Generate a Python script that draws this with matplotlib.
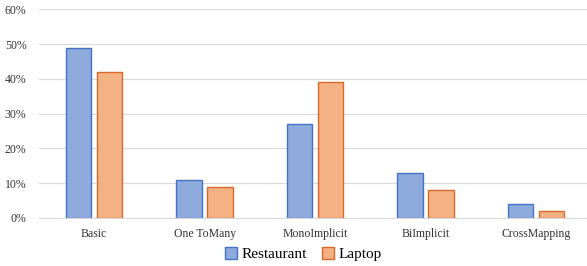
import matplotlib
matplotlib.use("Agg")
import matplotlib.pyplot as plt
import numpy as np

categories = ["Basic", "One ToMany", "MonoImplicit", "BiImplicit", "CrossMapping"]
restaurant = [49, 11, 27, 13, 4]
laptop = [42, 9, 39, 8, 2]

plt.rcParams['font.family'] = ['Liberation Serif', 'DejaVu Serif']

fig = plt.figure(figsize=(5.87, 2.66), dpi=100)
ax = fig.add_axes([39/587, 0.1805, 1 - 39/587, 0.965 - 0.1805])

x = np.arange(len(categories))
w = 0.23
off = 0.14
ax.bar(x - off, restaurant, w, color="#8FAADC", edgecolor="#4472C4",
       linewidth=1.0, label="Restaurant", zorder=3)
ax.bar(x + off, laptop, w, color="#F4B183", edgecolor="#D9692A",
       linewidth=1.0, label="Laptop", zorder=3)

ax.set_xlim(-0.5, 4.5 - 4/110.5)
ax.set_ylim(0, 60)
ax.set_yticks(range(0, 61, 10))
ax.set_yticklabels(["{}%".format(v) for v in range(0, 61, 10)], fontsize=8.5)
ax.set_xticks(x)
ax.set_xticklabels(categories, fontsize=8.5)
ax.tick_params(length=0, colors="#333333")
ax.tick_params(axis="x", pad=7)
ax.tick_params(axis="y", pad=9)
ax.yaxis.grid(True, color="#D9D9D9", linewidth=0.8, zorder=0)
for s in ["top", "right", "left"]:
    ax.spines[s].set_visible(False)
ax.spines["bottom"].set_color("#D9D9D9")
ax.spines["bottom"].set_zorder(4)

fig.legend(loc="center", bbox_to_anchor=(0.517, 0.045), ncol=2, frameon=False,
           fontsize=11, handlelength=0.8, handleheight=0.8,
           handletextpad=0.3, columnspacing=1.0)

fig.savefig("out.png", dpi=100)
